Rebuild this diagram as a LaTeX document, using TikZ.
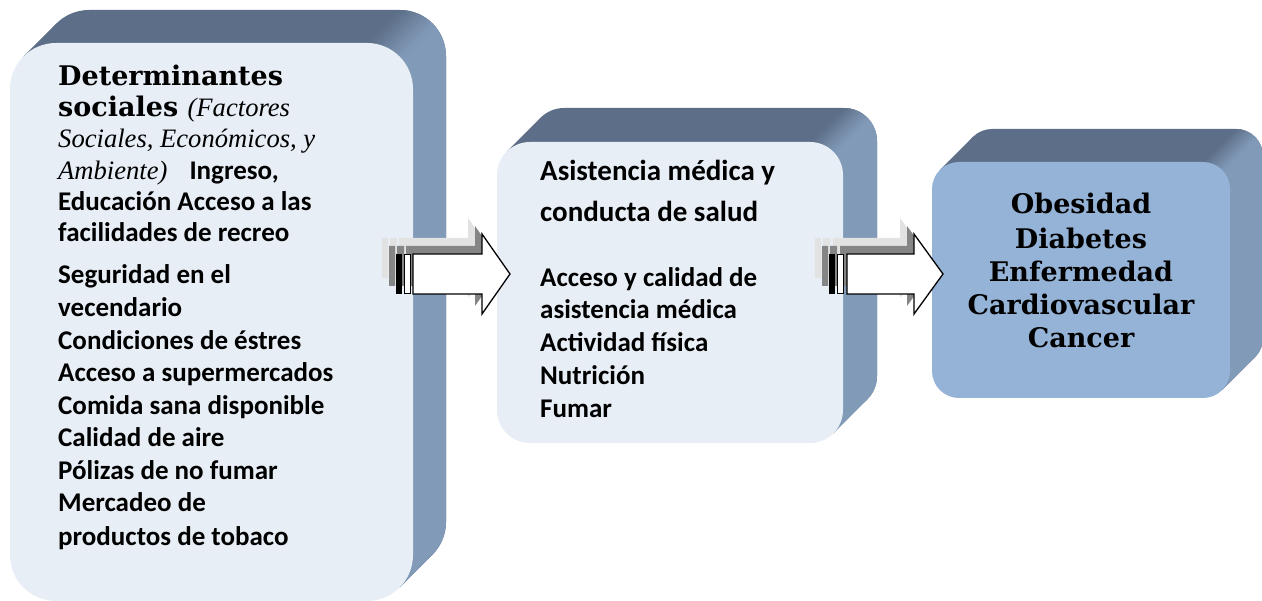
\documentclass[tikz,border=0pt]{standalone}
\usepackage{fontspec}
\setmainfont{Liberation Serif}
\newfontfamily\calibfont{Carlito}
\newfontfamily\dvserif{DejaVu Serif}
\definecolor{frontlight}{HTML}{E8EEF6}
\definecolor{frontblue}{HTML}{95B3D7}
\definecolor{topdark}{HTML}{5D6F88}
\definecolor{sidemid}{HTML}{819AB8}
\definecolor{shadowlight}{HTML}{E2E2E2}
\definecolor{shadowdark}{HTML}{858585}
\newcommand{\itl}{\rmfamily\mdseries\itshape\fontsize{26.6}{32}\selectfont}
\newcommand{\sansb}{\calibfont\bfseries\upshape\fontsize{27}{32}\selectfont}
\newcommand{\sansbig}{\calibfont\bfseries\upshape\fontsize{29}{34}\selectfont}
% 3D slab: #1 x1, #2 y1, #3 x2, #4 y2 (front face), #5 depth, #6 radius, #7 front colour
\newcommand{\slab}[7]{%
  \pgfmathsetmacro{\kk}{0.29289*#6}%
  \fill[topdark, rounded corners=#6] (#1+#5,#2-#5) rectangle (#3+#5,#4-#5);
  \fill[topdark] (#1+\kk,#2+\kk) -- (#1+#5+\kk,#2-#5+\kk) -- (#3+#5-\kk,#4-#5-\kk) -- (#3-\kk,#4-\kk) -- cycle;
  \fill[sidemid] (#3-\kk,#2+\kk) -- (#3+#5-\kk,#2-#5+\kk) arc[start angle=-45, end angle=0, radius=#6]
     -- (#3+#5,#4-#5-#6) arc[start angle=0, end angle=45, radius=#6] -- (#3-\kk,#4-\kk) -- cycle;
  \begin{scope}
    \clip[rounded corners=#6] (#1+#5,#2-#5) rectangle (#3+#5,#4-#5);
    \foreach \i in {0,...,11} {
      \pgfmathsetmacro{\bandA}{#3+#2-#6+\i*1.1*#6/12}
      \pgfmathsetmacro{\bandB}{\bandA+1.1*#6/12+0.6}
      \pgfmathsetmacro{\mixp}{100-(\i+0.5)*100/12}
      \fill[topdark!\mixp!sidemid] (\bandA-#2+#5+5,#2-#5-5) -- (\bandB-#2+#5+5,#2-#5-5)
        -- (\bandB-#2-2*#6,#2+2*#6) -- (\bandA-#2-2*#6,#2+2*#6) -- cycle;
    }
  \end{scope}
  \fill[#7, rounded corners=#6] (#1,#2) rectangle (#3,#4);
}
% striped block arrow: #1 black bar left, #2 body left, #3 head base, #4 tip
\newcommand{\stripedarrow}[4]{%
  \foreach \ox/\oy/\col in {-14/-16/shadowlight, -7/-8/shadowdark} {
    \fill[\col, shift={(\ox,\oy)}] (#1,254) rectangle (#1+6,294) (#1+8,254) rectangle (#1+15,294)
      (#2,254) -- (#3,254) -- (#3,234) -- (#4,274) -- (#3,314) -- (#3,294) -- (#2,294) -- cycle;
  }
  \fill[black] (#1,254) rectangle (#1+6,294);
  \draw[arrowline] (#1+8.6,254.6) rectangle (#1+14.4,293.4);
  \draw[arrowline] (#2,254) -- (#3,254) -- (#3,234) -- (#4,274) -- (#3,314) -- (#3,294) -- (#2,294) -- cycle;
}
\tikzset{
  arrowline/.style={draw=black, fill=white, line width=1.3pt, line join=miter},
  sansline/.style={anchor=base west, inner sep=0pt, font=\sansb},
  sanshead/.style={anchor=base west, inner sep=0pt, font=\sansbig},
  serifline/.style={anchor=base west, inner sep=0pt, font=\dvserif\bfseries\fontsize{27}{32}\selectfont},
  italline/.style={anchor=base west, inner sep=0pt, font=\itl},
  outcome/.style={anchor=base, inner sep=0pt, font=\dvserif\bfseries\fontsize{27}{32}\selectfont},
}
\begin{document}
\begin{tikzpicture}[x=1pt, y=-1pt]
\useasboundingbox (0,0) rectangle (1262,601);
\clip (0,0) rectangle (1262,601);
\fill[white] (0,0) rectangle (1262,601);

% boxes
\slab{10}{43}{413}{601}{33}{46}{frontlight}
\slab{497}{142}{843}{443}{34}{33}{frontlight}
\slab{932}{162}{1230}{398}{33}{27}{frontblue}

% arrows
\stripedarrow{396}{413}{482}{510}
\stripedarrow{829}{847}{914}{943}

% box 1 text
\node[serifline] (b1l1) at (58,86) {Determinantes};
\node[serifline] (b1l2) at (58,117) {sociales {\itl (Factores}};
\node[italline] (b1l3) at (58,148) {Sociales, Económicos, y};
\node[italline] (b1l4) at (58,180) {Ambiente)\hspace{22pt}{\sansb Ingreso,}};
\node[sansline] (b1l5) at (58,211) {Educación Acceso a las};
\node[sansline] (b1l6) at (58,242) {facilidades de recreo};
\node[sansline] (b1l7) at (58,284) {Seguridad en el};
\node[sansline] (b1l8) at (58,317) {vecendario};
\node[sansline] (b1l9) at (58,350) {Condiciones de éstres};
\node[sansline] (b1l10) at (58,382) {Acceso a supermercados};
\node[sansline] (b1l11) at (58,415) {Comida sana disponible};
\node[sansline] (b1l12) at (58,447) {Calidad de aire};
\node[sansline] (b1l13) at (58,480) {Pólizas de no fumar};
\node[sansline] (b1l14) at (58,512) {Mercadeo de};
\node[sansline] (b1l15) at (58,545) {productos de tobaco};

% box 2 text
\node[sanshead] (b2l1) at (540,181) {Asistencia médica y};
\node[sanshead] (b2l2) at (540,222) {conducta de salud};
\node[sansline] (b2l3) at (540,287) {Acceso y calidad de};
\node[sansline] (b2l4) at (540,319) {asistencia médica};
\node[sansline] (b2l5) at (540,352) {Actividad física};
\node[sansline] (b2l6) at (540,385) {Nutrición};
\node[sansline] (b2l7) at (540,418) {Fumar};

% box 3 text
\node[outcome] (b3l1) at (1081,214) {Obesidad};
\node[outcome] (b3l2) at (1081,249) {Diabetes};
\node[outcome] (b3l3) at (1081,282) {Enfermedad};
\node[outcome] (b3l4) at (1081,315) {Cardiovascular};
\node[outcome] (b3l5) at (1081,348) {Cancer};
\end{tikzpicture}
\end{document}
